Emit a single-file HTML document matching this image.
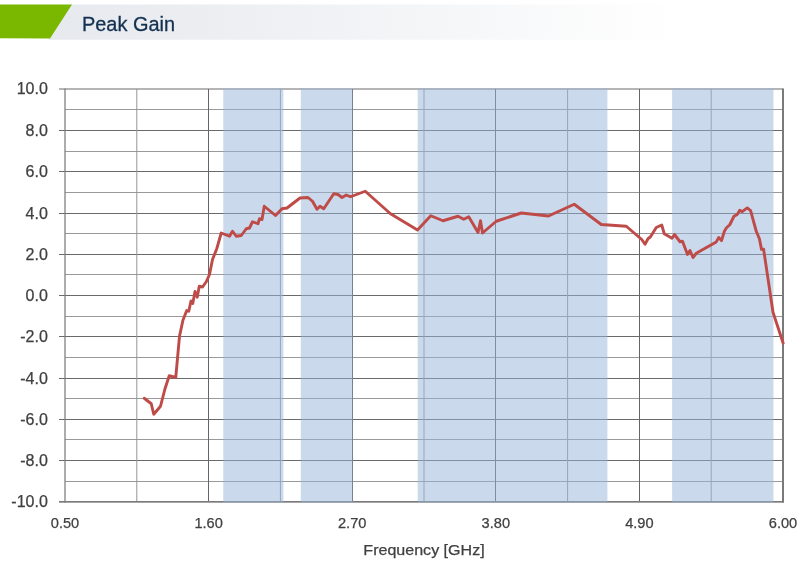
<!DOCTYPE html>
<html><head><meta charset="utf-8"><title>Peak Gain</title>
<style>
html,body{margin:0;padding:0;background:#fff;}
body{width:808px;height:564px;overflow:hidden;position:relative;font-family:"Liberation Sans",sans-serif;}
svg{position:absolute;left:0;top:0;display:block;}
text{font-family:"Liberation Sans",sans-serif;}
.tk{font-size:14.6px;fill:#404040;stroke:#404040;stroke-width:0.25px;}
</style></head><body>
<svg width="808" height="564" viewBox="0 0 808 564">
<defs><linearGradient id="hg" x1="0" y1="0" x2="1" y2="0"><stop offset="0" stop-color="#e6e9ee"/><stop offset="0.35" stop-color="#eef0f3"/><stop offset="1" stop-color="#ffffff"/></linearGradient></defs>
<rect x="0" y="0" width="808" height="564" fill="#ffffff"/>
<polygon points="71,4.6 680,4.6 680,39.8 48.6,39.8" fill="url(#hg)"/>
<polygon points="0,4.6 72,4.6 50,38.6 0,38.2" fill="#7ab800"/>
<text x="82" y="30.5" font-size="20.5" fill="#14304f" stroke="#14304f" stroke-width="0.3" textLength="93" lengthAdjust="spacingAndGlyphs">Peak Gain</text>
<line x1="59.00" y1="89.00" x2="783.0" y2="89.00" stroke="#6a6a6a" stroke-width="1"/>
<line x1="65.0" y1="109.50" x2="783.0" y2="109.50" stroke="#9a9a9a" stroke-width="1"/>
<line x1="59.00" y1="130.50" x2="783.0" y2="130.50" stroke="#6a6a6a" stroke-width="1"/>
<line x1="65.0" y1="151.50" x2="783.0" y2="151.50" stroke="#9a9a9a" stroke-width="1"/>
<line x1="59.00" y1="171.50" x2="783.0" y2="171.50" stroke="#6a6a6a" stroke-width="1"/>
<line x1="65.0" y1="192.50" x2="783.0" y2="192.50" stroke="#9a9a9a" stroke-width="1"/>
<line x1="59.00" y1="213.50" x2="783.0" y2="213.50" stroke="#6a6a6a" stroke-width="1"/>
<line x1="65.0" y1="233.50" x2="783.0" y2="233.50" stroke="#9a9a9a" stroke-width="1"/>
<line x1="59.00" y1="254.50" x2="783.0" y2="254.50" stroke="#6a6a6a" stroke-width="1"/>
<line x1="65.0" y1="274.50" x2="783.0" y2="274.50" stroke="#9a9a9a" stroke-width="1"/>
<line x1="59.00" y1="295.50" x2="783.0" y2="295.50" stroke="#6a6a6a" stroke-width="1"/>
<line x1="65.0" y1="316.50" x2="783.0" y2="316.50" stroke="#9a9a9a" stroke-width="1"/>
<line x1="59.00" y1="336.50" x2="783.0" y2="336.50" stroke="#6a6a6a" stroke-width="1"/>
<line x1="65.0" y1="357.50" x2="783.0" y2="357.50" stroke="#9a9a9a" stroke-width="1"/>
<line x1="59.00" y1="378.50" x2="783.0" y2="378.50" stroke="#6a6a6a" stroke-width="1"/>
<line x1="65.0" y1="398.50" x2="783.0" y2="398.50" stroke="#9a9a9a" stroke-width="1"/>
<line x1="59.00" y1="419.50" x2="783.0" y2="419.50" stroke="#6a6a6a" stroke-width="1"/>
<line x1="65.0" y1="439.50" x2="783.0" y2="439.50" stroke="#9a9a9a" stroke-width="1"/>
<line x1="59.00" y1="460.50" x2="783.0" y2="460.50" stroke="#6a6a6a" stroke-width="1"/>
<line x1="65.0" y1="481.50" x2="783.0" y2="481.50" stroke="#9a9a9a" stroke-width="1"/>
<line x1="59.00" y1="501.80" x2="783.0" y2="501.80" stroke="#6a6a6a" stroke-width="1"/>
<line x1="136.80" y1="89.0" x2="136.80" y2="501.8" stroke="#959595" stroke-width="1"/>
<line x1="208.50" y1="89.0" x2="208.50" y2="501.8" stroke="#666666" stroke-width="1"/>
<line x1="280.40" y1="89.0" x2="280.40" y2="501.8" stroke="#959595" stroke-width="1"/>
<line x1="352.50" y1="89.0" x2="352.50" y2="501.8" stroke="#666666" stroke-width="1"/>
<line x1="424.00" y1="89.0" x2="424.00" y2="501.8" stroke="#959595" stroke-width="1"/>
<line x1="495.50" y1="89.0" x2="495.50" y2="501.8" stroke="#666666" stroke-width="1"/>
<line x1="567.60" y1="89.0" x2="567.60" y2="501.8" stroke="#959595" stroke-width="1"/>
<line x1="639.50" y1="89.0" x2="639.50" y2="501.8" stroke="#666666" stroke-width="1"/>
<line x1="711.20" y1="89.0" x2="711.20" y2="501.8" stroke="#959595" stroke-width="1"/>
<line x1="65.0" y1="88.5" x2="65.0" y2="502.5" stroke="#7c7c7c" stroke-width="1.25"/>
<line x1="783.0" y1="88.5" x2="783.0" y2="502.65000000000003" stroke="#7a7a7a" stroke-width="2"/>
<line x1="59.0" y1="501.8" x2="783.0" y2="501.8" stroke="#7a7a7a" stroke-width="1.6"/>
<rect x="223.3" y="88.4" width="60.10" height="414.00" fill="#95b3d7" fill-opacity="0.5"/>
<rect x="300.8" y="88.4" width="51.90" height="414.00" fill="#95b3d7" fill-opacity="0.5"/>
<rect x="417.7" y="88.4" width="189.70" height="414.00" fill="#95b3d7" fill-opacity="0.5"/>
<rect x="672.1" y="88.4" width="101.35" height="414.00" fill="#95b3d7" fill-opacity="0.5"/>
<path d="M144.25,398.25 L151.25,403.75 L153.75,414.25 L160.50,406.25 L165.00,388.75 L169.25,375.75 L175.75,377.50 L179.50,336.25 L183.00,320.00 L186.75,310.50 L188.75,311.25 L191.00,301.00 L192.75,303.50 L195.00,291.50 L197.25,297.25 L199.25,286.25 L202.50,287.00 L206.25,281.75 L209.50,274.50 L212.50,259.50 L216.75,248.75 L221.25,233.00 L229.50,236.25 L232.50,231.25 L236.25,236.25 L241.25,235.50 L246.25,228.75 L249.50,228.00 L252.50,221.75 L258.00,223.75 L259.50,218.75 L262.00,219.50 L264.25,206.25 L275.50,215.50 L282.00,208.75 L287.00,208.00 L300.00,198.00 L308.00,197.50 L312.50,201.25 L317.00,209.25 L320.00,206.25 L323.75,208.75 L333.75,193.75 L338.00,194.50 L342.00,197.50 L346.25,195.00 L350.50,196.75 L365.25,191.25 L390.50,213.75 L417.50,230.00 L430.75,215.75 L443.00,220.75 L458.00,216.25 L463.75,219.25 L468.75,216.75 L478.00,232.50 L480.50,220.75 L482.50,233.00 L496.25,221.25 L521.25,213.00 L548.50,216.00 L574.25,204.25 L601.25,224.50 L626.25,226.25 L641.75,239.50 L645.00,244.25 L648.00,238.75 L650.50,236.75 L656.25,227.50 L661.75,225.00 L664.25,233.75 L672.00,238.25 L674.50,234.50 L680.00,241.75 L682.50,241.25 L687.50,254.50 L690.00,250.50 L693.00,257.50 L696.25,253.25 L716.25,241.90 L718.75,237.50 L721.50,240.60 L724.40,231.25 L726.50,227.75 L729.75,224.75 L734.00,216.25 L737.25,214.40 L739.75,210.25 L742.25,211.60 L747.25,207.90 L750.60,210.60 L756.25,231.25 L759.40,238.75 L761.50,249.40 L763.60,249.20 L773.00,312.30 L783.20,343.20" fill="none" stroke="#be4b48" stroke-width="2.9" stroke-linejoin="round" stroke-linecap="round"/>
<text class="tk" style="font-size:16px" x="47.8" y="94.00" text-anchor="end">10.0</text>
<text class="tk" style="font-size:16px" x="47.8" y="135.50" text-anchor="end">8.0</text>
<text class="tk" style="font-size:16px" x="47.8" y="176.50" text-anchor="end">6.0</text>
<text class="tk" style="font-size:16px" x="47.8" y="218.50" text-anchor="end">4.0</text>
<text class="tk" style="font-size:16px" x="47.8" y="259.50" text-anchor="end">2.0</text>
<text class="tk" style="font-size:16px" x="47.8" y="300.50" text-anchor="end">0.0</text>
<text class="tk" style="font-size:16px" x="47.8" y="341.50" text-anchor="end">-2.0</text>
<text class="tk" style="font-size:16px" x="47.8" y="383.50" text-anchor="end">-4.0</text>
<text class="tk" style="font-size:16px" x="47.8" y="424.50" text-anchor="end">-6.0</text>
<text class="tk" style="font-size:16px" x="47.8" y="465.50" text-anchor="end">-8.0</text>
<text class="tk" style="font-size:16px" x="47.8" y="506.80" text-anchor="end">-10.0</text>
<text class="tk" x="65.00" y="527.6" text-anchor="middle">0.50</text>
<text class="tk" x="208.60" y="527.6" text-anchor="middle">1.60</text>
<text class="tk" x="352.20" y="527.6" text-anchor="middle">2.70</text>
<text class="tk" x="495.80" y="527.6" text-anchor="middle">3.80</text>
<text class="tk" x="639.40" y="527.6" text-anchor="middle">4.90</text>
<text class="tk" x="783.00" y="527.6" text-anchor="middle">6.00</text>
<text x="424" y="555" font-size="15.4" fill="#404040" stroke="#404040" stroke-width="0.25" text-anchor="middle" textLength="121.3" lengthAdjust="spacingAndGlyphs">Frequency [GHz]</text>
</svg>
</body></html>
